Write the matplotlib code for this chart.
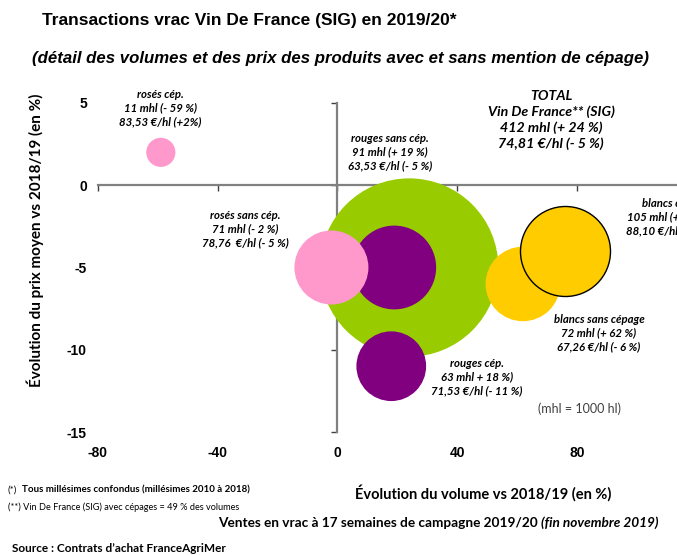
import matplotlib
matplotlib.use('Agg')
import matplotlib.pyplot as plt

plt.rcParams['axes.unicode_minus'] = False

# ---- data ----
categories = ['TOTAL', 'blancs sans cépage', 'blancs cép.', 'rouges sans cép.',
              'rouges cép.', 'rosés sans cép.', 'rosés cép.']
vol_change = [24, 62, 76, 19, 18, -2, -59]        # % volume change vs 2018/19
price_change = [-5, -6, -4, -5, -11, -5, 2]       # % price change vs 2018/19
volume_mhl = [412, 72, 105, 91, 63, 71, 11]       # volume (mhl)
price_eur = ['74,81', '67,26', '88,10', '63,53', '71,53', '78,76', '83,53']

x_ticks = [-80, -40, 0, 40, 80]
y_ticks = [-15, -10, -5, 0, 5]

# ---- style ----
colors = ['#99CC00', '#FFCC00', '#FFCC00', '#800080', '#800080', '#FF99CC', '#FF99CC']
edges = ['none', 'none', 'black', 'none', 'none', 'none', 'none']
zorders = [3, 4, 5, 4, 4, 6, 6]

W, H = 677, 555
fig = plt.figure(figsize=(W / 100, H / 100), dpi=100)

def fx(px):
    return px / W

def fy(py):
    return 1 - py / H

ax = fig.add_axes([fx(98), fy(432), 200 * 2.9925 / W, (432 - 103) / H])
ax.set_xlim(-80, 120)
ax.set_ylim(-15, 5)
ax.patch.set_alpha(0)
for s in ['top', 'right']:
    ax.spines[s].set_visible(False)
for s in ['left', 'bottom']:
    ax.spines[s].set_position(('data', 0))
    ax.spines[s].set_color('#808080')
    ax.spines[s].set_linewidth(1.6)
ax.set_xticks(x_ticks)
ax.set_yticks(y_ticks)
ax.tick_params(direction='out', length=4, width=1, color='#404040',
               labelbottom=False, labelleft=False)

k = 40
for i in range(len(categories)):
    ax.scatter(vol_change[i], price_change[i], s=k * volume_mhl[i], c=colors[i],
               edgecolors=edges[i], linewidths=1.0, zorder=zorders[i], clip_on=False)

tick_font = dict(family='Liberation Sans', weight='bold', size=10)
sx = ax.secondary_xaxis('bottom')
sx.set_xticks(x_ticks)
sx.set_xticklabels([str(t) for t in x_ticks], fontdict=tick_font)
sx.spines['bottom'].set_visible(False)
sx.tick_params(length=0, pad=10)

sy = ax.secondary_yaxis('left')
sy.set_yticks(y_ticks)
sy.set_yticklabels([str(t) for t in y_ticks], fontdict=tick_font)
sy.spines['left'].set_visible(False)
sy.tick_params(length=0, pad=8)

# ---- texts ----
fig.text(fx(42), fy(20), 'Transactions vrac Vin De France (SIG) en 2019/20*',
         family='Liberation Sans', weight='bold', size=12.5, ha='left', va='center')
fig.text(fx(341), fy(58),
         '(détail des volumes et des prix des produits avec et sans mention de cépage)',
         family='Liberation Sans', weight='bold', style='italic', size=12.1,
         ha='center', va='center')

lab = dict(family='Lato', weight='bold', style='italic', size=8.2, ha='center',
           va='center', linespacing=1.28)

fig.text(fx(160), fy(108), "rosés cép.\n11 mhl (- 59 %)\n83,53 €/hl (+2%)", **lab)
fig.text(fx(245), fy(229), "rosés sans cép.\n71 mhl (- 2 %)\n78,76  €/hl (- 5 %)", **lab)
fig.text(fx(390), fy(152), "rouges sans cép.\n91 mhl (+ 19 %)\n63,53 €/hl (- 5 %)", **lab)
fig.text(fx(477), fy(377), "rouges cép.\n63 mhl + 18 %)\n71,53 €/hl (- 11 %)", **lab)
fig.text(fx(599), fy(333), "blancs sans cépage\n72 mhl (+ 62 %)\n67,26 €/hl (- 6 %)", **lab)
fig.text(fx(668), fy(217), "blancs cép.\n105 mhl (+ 76 %)\n88,10 €/hl (- 4 %)", **lab)

tot = dict(lab)
tot.update(size=10.2, linespacing=1.32)
fig.text(fx(551), fy(120), "TOTAL\nVin De France** (SIG)\n412 mhl (+ 24 %)\n74,81 €/hl (- 5 %)", **tot)

fig.text(fx(580), fy(409), '(mhl = 1000 hl)', family='Lato', size=9, color='#404040',
         ha='center', va='center')

fig.text(fx(35), fy(240), 'Évolution du prix moyen vs 2018/19 (en %)', family='Lato',
         weight='bold', size=11, rotation=90, ha='center', va='center')
fig.text(fx(483), fy(493), 'Évolution du volume vs 2018/19 (en %)', family='Lato',
         weight='bold', size=10.5, ha='center', va='center')

fig.text(fx(8), fy(490), '(*)', family='Lato', size=7, ha='left', va='center')
fig.text(fx(22), fy(490), 'Tous millésimes confondus (millésimes 2010 à 2018)', family='Lato',
         weight='bold', size=7, ha='left', va='center')
fig.text(fx(8), fy(507), '(**) Vin De France (SIG) avec cépages = 49 % des volumes', family='Lato',
         size=6.6, ha='left', va='center')

t1 = fig.text(fx(218), fy(523), 'Ventes en vrac à 17 semaines de campagne 2019/20 ', family='Lato',
              weight='bold', size=9.85, ha='left', va='center')
fig.canvas.draw()
bb = t1.get_window_extent()
fig.text(bb.x1 / W, fy(523), '(fin novembre 2019)', family='Lato', weight='bold', style='italic',
         size=9.85, ha='left', va='center')
fig.text(fx(12), fy(548), 'Source : Contrats d\u2019achat FranceAgriMer', family='Lato',
         weight='bold', size=8.5, ha='left', va='center')

fig.savefig('out.png', dpi=100)
